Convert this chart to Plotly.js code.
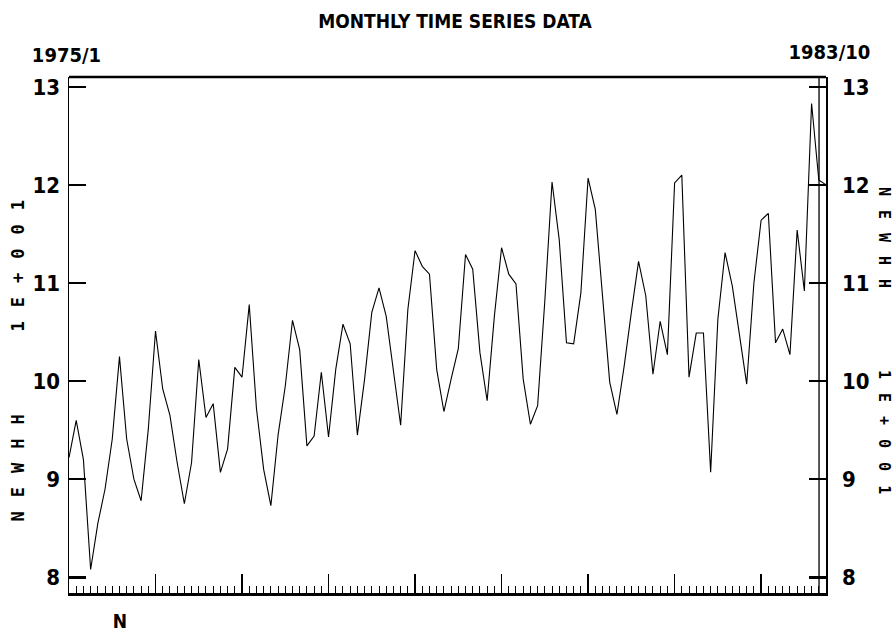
<!DOCTYPE html>
<html>
<head>
<meta charset="utf-8">
<script src="https://cdn.plot.ly/plotly-3.0.1.min.js"></script>
<style>
  html, body { margin: 0; padding: 0; background: #fff; }
  #chart { width: 892px; height: 636px; }
  #chart svg text { font-stretch: condensed; }
  g.annotation[data-index="2"] text,
  g.annotation[data-index="3"] text,
  g.annotation[data-index="4"] text,
  g.annotation[data-index="5"] text { letter-spacing: 14px; }
</style>
</head>
<body>
<div id="chart"></div>
<script>
// ---- data (monthly, 1975/1 .. 1983/10) ----
const startLabel = "1975/1";
const endLabel = "1983/10";
const chartTitle = "MONTHLY TIME SERIES DATA";
const seriesName = "NEWHH";
const scaleLabel = "1E+001";
const xAxisLabel = "N";
const yTickValues = [8, 9, 10, 11, 12, 13];
const yTickLabels = ["8", "9", "10", "11", "12", "13"];
const values = [
  9.22, 9.60, 9.20, 8.08, 8.55, 8.90, 9.41, 10.25, 9.41, 9.00, 8.78, 9.51,
  10.51, 9.92, 9.65, 9.17, 8.75, 9.17, 10.22, 9.63, 9.77, 9.07, 9.31, 10.14,
  10.04, 10.78, 9.72, 9.10, 8.73, 9.45, 9.95, 10.62, 10.32, 9.34, 9.44, 10.09,
  9.43, 10.12, 10.58, 10.38, 9.45, 10.02, 10.70, 10.95, 10.66, 10.09, 9.55, 10.73,
  11.33, 11.17, 11.09, 10.12, 9.69, 10.02, 10.33, 11.29, 11.14, 10.29, 9.80, 10.66,
  11.36, 11.09, 10.99, 10.02, 9.56, 9.75, 10.82, 12.03, 11.44, 10.39, 10.38, 10.90,
  12.07, 11.75, 10.88, 9.99, 9.66, 10.15, 10.70, 11.22, 10.87, 10.07, 10.61, 10.27,
  12.02, 12.10, 10.04, 10.49, 10.49, 9.07, 10.63, 11.31, 10.97, 10.46, 9.97, 11.00,
  11.64, 11.71, 10.39, 10.53, 10.27, 11.54, 10.92, 12.83, 12.05, 12.00
];
const monthIndex = values.map((v, i) => i);

const narrow = "DejaVu Sans, sans-serif";
const mono = "DejaVu Sans Mono, Liberation Mono, monospace";

const trace = {
  x: monthIndex, y: values, type: 'scatter', mode: 'lines',
  line: { color: '#000', width: 1.1 }, hoverinfo: 'skip', showlegend: false
};
const trace2 = {
  x: [monthIndex[0]], y: [values[0]], type: 'scatter', mode: 'lines',
  yaxis: 'y2', line: { color: 'rgba(0,0,0,0)' }, hoverinfo: 'skip', showlegend: false
};

const yRange = [7.84, 13.10];
const layout = {
  width: 892, height: 636,
  margin: { l: 69, r: 66, t: 77, b: 43, pad: 0 },
  paper_bgcolor: '#fff', plot_bgcolor: '#fff',
  showlegend: false,
  title: {
    text: chartTitle, x: 0.51, xanchor: 'center', y: 1 - 21 / 636, yanchor: 'middle',
    yref: 'container', font: { family: narrow, size: 19, color: '#000', weight: 'bold' }
  },
  xaxis: {
    range: [monthIndex[0], monthIndex[monthIndex.length - 1]],
    showgrid: false, zeroline: false,
    showline: true, linecolor: '#000', linewidth: 3,
    ticks: 'inside', tick0: 0, dtick: 12, ticklen: 19, tickwidth: 1.3, tickcolor: '#000',
    minor: { ticks: 'inside', dtick: 1, ticklen: 7, tickwidth: 1, tickcolor: '#000', showgrid: false },
    showticklabels: false, fixedrange: true
  },
  yaxis: {
    range: yRange, showgrid: false, zeroline: false,
    showline: true, linecolor: '#000', linewidth: 1.5,
    ticks: 'inside', tickvals: yTickValues, ticktext: yTickLabels,
    ticklen: 17, tickwidth: 2.5, tickcolor: '#000',
    ticklabelstandoff: 3,
    tickfont: { family: narrow, size: 22, color: '#000', weight: 'bold' }, fixedrange: true
  },
  yaxis2: {
    range: yRange, overlaying: 'y', side: 'right', showgrid: false, zeroline: false,
    showline: true, linecolor: '#000', linewidth: 1.5,
    ticks: 'inside', tickvals: yTickValues, ticktext: yTickLabels,
    ticklen: 17, tickwidth: 2.5, tickcolor: '#000',
    ticklabelstandoff: 10,
    tickfont: { family: narrow, size: 22, color: '#000', weight: 'bold' }, fixedrange: true
  },
  shapes: [
    { type: 'line', xref: 'paper', yref: 'paper', x0: 0, x1: 1, y0: 1, y1: 1,
      line: { color: '#000', width: 2.5 } },
    { type: 'line', xref: 'paper', yref: 'paper', x0: 0.9908, x1: 0.9908, y0: 0, y1: 1,
      line: { color: '#000', width: 1.3 } }
  ],
  annotations: [
    { text: startLabel, xref: 'paper', yref: 'paper', x: (66 - 69) / 757, y: (593 - 55) / 516,
      xanchor: 'center', yanchor: 'middle', showarrow: false,
      font: { family: narrow, size: 20, color: '#000', weight: 'bold' } },
    { text: endLabel, xref: 'paper', yref: 'paper', x: (829 - 69) / 757, y: (593 - 52) / 516,
      xanchor: 'center', yanchor: 'middle', showarrow: false,
      font: { family: narrow, size: 20, color: '#000', weight: 'bold' } },
    { text: scaleLabel, xref: 'paper', yref: 'paper', x: (17.5 - 69) / 757, y: (593 - 259) / 516,
      xanchor: 'center', yanchor: 'middle', showarrow: false, textangle: -90,
      font: { family: mono, size: 17, color: '#000', weight: 'bold' } },
    { text: seriesName, xref: 'paper', yref: 'paper', x: (17.5 - 69) / 757, y: (593 - 461) / 516,
      xanchor: 'center', yanchor: 'middle', showarrow: false, textangle: -90,
      font: { family: mono, size: 17, color: '#000', weight: 'bold' } },
    { text: seriesName, xref: 'paper', yref: 'paper', x: (884 - 69) / 757, y: (593 - 244) / 516,
      xanchor: 'center', yanchor: 'middle', showarrow: false, textangle: 90,
      font: { family: mono, size: 15, color: '#000', weight: 'bold' } },
    { text: scaleLabel, xref: 'paper', yref: 'paper', x: (884 - 69) / 757, y: (593 - 439) / 516,
      xanchor: 'center', yanchor: 'middle', showarrow: false, textangle: 90,
      font: { family: mono, size: 15, color: '#000', weight: 'bold' } },
    { text: xAxisLabel, xref: 'paper', yref: 'paper', x: (120 - 69) / 757, y: (593 - 621) / 516,
      xanchor: 'center', yanchor: 'middle', showarrow: false,
      font: { family: narrow, size: 19, color: '#000', weight: 'bold' } }
  ]
};

Plotly.newPlot('chart', [trace, trace2], layout, { staticPlot: true, displayModeBar: false });
</script>
</body>
</html>
